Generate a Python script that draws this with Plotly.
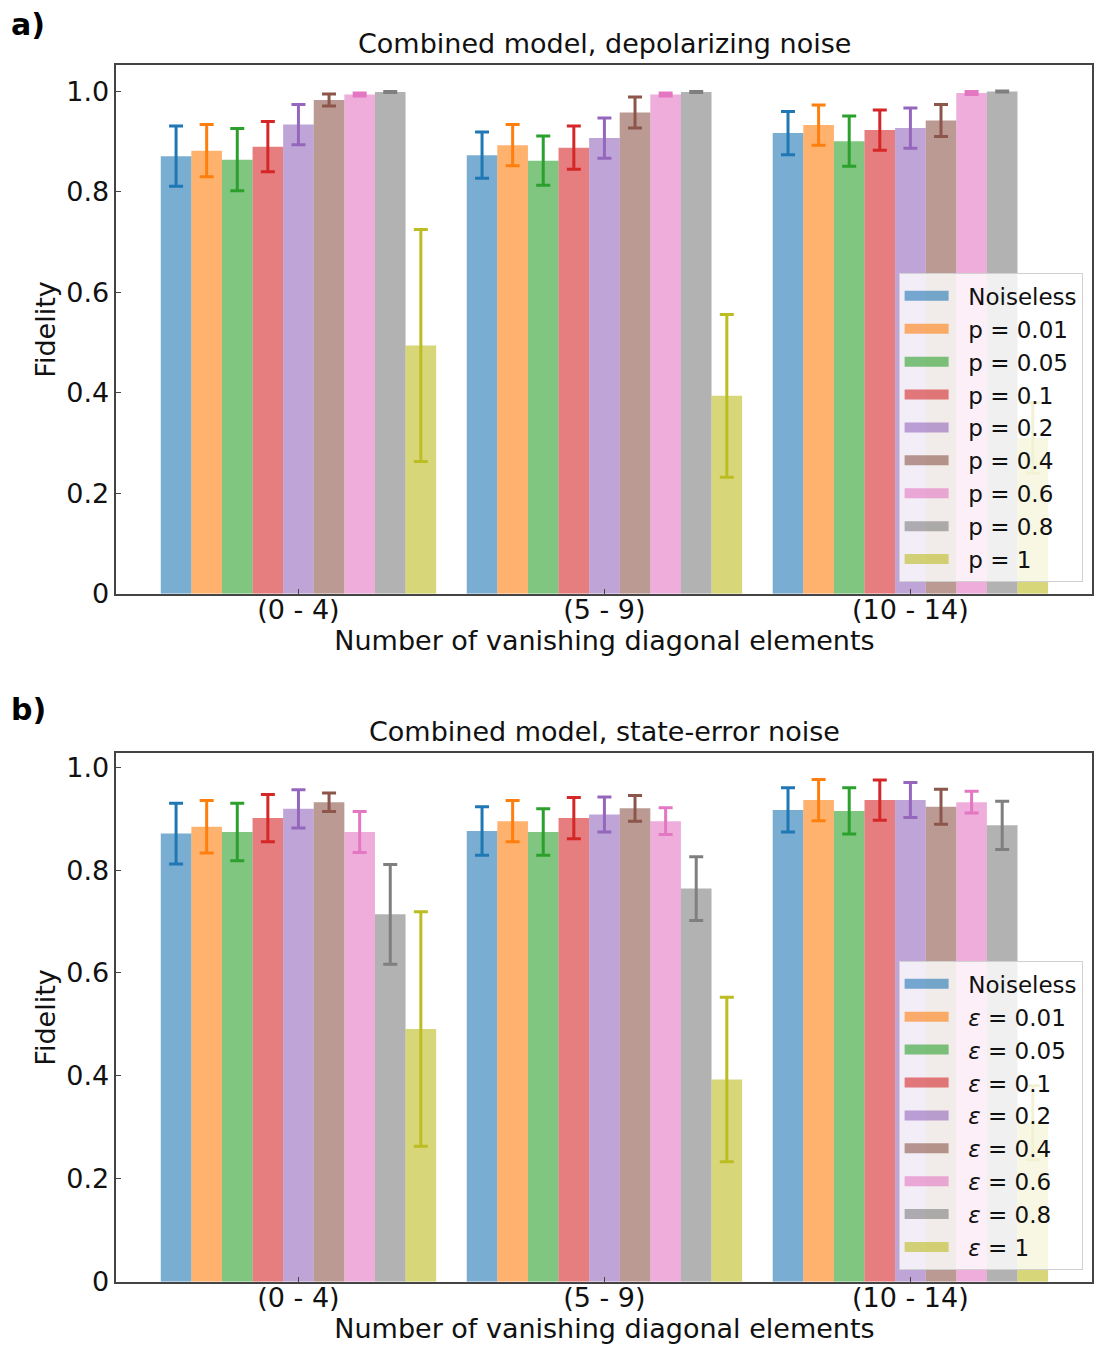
import plotly.graph_objects as go

categories = ["(0 - 4)", "(5 - 9)", "(10 - 14)"]
series_a = ["Noiseless", "p = 0.01", "p = 0.05", "p = 0.1", "p = 0.2", "p = 0.4", "p = 0.6", "p = 0.8", "p = 1"]
series_b = ["Noiseless", "<i>ε</i> = 0.01", "<i>ε</i> = 0.05", "<i>ε</i> = 0.1", "<i>ε</i> = 0.2",
            "<i>ε</i> = 0.4", "<i>ε</i> = 0.6", "<i>ε</i> = 0.8", "<i>ε</i> = 1"]

# Panel a: depolarizing noise (rows: series, cols: categories)
vals_a = [
    [0.871, 0.873, 0.917],
    [0.882, 0.893, 0.933],
    [0.864, 0.862, 0.901],
    [0.890, 0.888, 0.923],
    [0.934, 0.907, 0.927],
    [0.983, 0.958, 0.942],
    [0.994, 0.994, 0.997],
    [0.999, 0.999, 1.000],
    [0.494, 0.394, 0.310],
]
errs_a = [
    [0.060, 0.046, 0.043],
    [0.052, 0.041, 0.040],
    [0.062, 0.049, 0.050],
    [0.050, 0.043, 0.040],
    [0.040, 0.040, 0.040],
    [0.012, 0.031, 0.032],
    [0.003, 0.003, 0.003],
    [0.001, 0.001, 0.001],
    [0.231, 0.162, 0.070],
]

# Panel b: state-error noise
vals_b = [
    [0.871, 0.876, 0.917],
    [0.884, 0.895, 0.936],
    [0.874, 0.874, 0.915],
    [0.901, 0.901, 0.936],
    [0.919, 0.908, 0.936],
    [0.932, 0.920, 0.923],
    [0.874, 0.895, 0.932],
    [0.714, 0.764, 0.887],
    [0.491, 0.393, 0.309],
]
errs_b = [
    [0.059, 0.047, 0.043],
    [0.051, 0.040, 0.040],
    [0.056, 0.045, 0.045],
    [0.046, 0.040, 0.039],
    [0.037, 0.034, 0.034],
    [0.018, 0.025, 0.034],
    [0.040, 0.026, 0.021],
    [0.097, 0.062, 0.047],
    [0.228, 0.160, 0.072],
]

colors = ["#1f77b4", "#ff7f0e", "#2ca02c", "#d62728", "#9467bd",
          "#8c564b", "#e377c2", "#7f7f7f", "#bcbd22"]

def rgba(h, a):
    h = h.lstrip("#")
    r, g, b = int(h[0:2], 16), int(h[2:4], 16), int(h[4:6], 16)
    return f"rgba({r},{g},{b},{a})"

fig = go.Figure()
xpos = list(range(len(categories)))
pad = "\u00a0\u00a0"

for panel, (names, vals, errs) in enumerate([(series_a, vals_a, errs_a), (series_b, vals_b, errs_b)]):
    xa = "x" if panel == 0 else "x2"
    ya = "y" if panel == 0 else "y2"
    leg = "legend" if panel == 0 else "legend2"
    for i, name in enumerate(names):
        fig.add_trace(go.Bar(
            x=xpos, y=vals[i], name=name, showlegend=False,
            marker=dict(color=rgba(colors[i], 0.6), line=dict(width=0)),
            error_y=dict(type="data", array=errs[i], color=colors[i], thickness=3, width=7, visible=True),
            xaxis=xa, yaxis=ya, offsetgroup=str(i), legendgroup=f"{panel}-{i}",
        ))
    # legend entries (wide colour patches like the original)
    for i, name in enumerate(names):
        fig.add_trace(go.Scatter(
            x=[None], y=[None], name=pad + name, mode="lines",
            line=dict(color=rgba(colors[i], 0.6), width=17),
            xaxis=xa, yaxis=ya, legend=leg, legendgroup=f"{panel}-{i}",
        ))

font = "DejaVu Sans"
txt = "#111"
axis_common = dict(
    showline=True, linecolor="#444", linewidth=1.5, mirror=True,
    ticks="inside", ticklen=5, tickcolor="#444", tickwidth=1.2,
    showgrid=False, zeroline=False,
    tickfont=dict(family=font, size=27, color=txt),
)

ydoms = [[0.5547, 0.9517], [0.0378, 0.4348]]
yranges = [[0, 1.052], [0, 1.027]]
titles = ["Combined model, depolarizing noise", "Combined model, state-error noise"]

layout = dict(
    width=1094, height=1347,
    margin=dict(l=0, r=0, t=0, b=0),
    paper_bgcolor="white", plot_bgcolor="white",
    barmode="group", bargap=0.1, bargroupgap=0,
    showlegend=True,
)

for k in range(2):
    sx = "" if k == 0 else "2"
    layout["xaxis" + sx] = dict(
        axis_common, domain=[0.1065, 0.9995], range=[-0.595, 2.595],
        tickvals=xpos, ticktext=categories, anchor="y" + sx,
        ticklabelstandoff=-9,
        title=dict(text="Number of vanishing diagonal elements", font=dict(family=font, size=27, color=txt), standoff=2),
    )
    layout["yaxis" + sx] = dict(
        axis_common, domain=ydoms[k], range=yranges[k], anchor="x" + sx,
        tickvals=[0, 0.2, 0.4, 0.6, 0.8, 1.0], ticktext=["0", "0.2", "0.4", "0.6", "0.8", "1.0"],
        title=dict(text="Fidelity", font=dict(family=font, size=27, color=txt), standoff=3),
    )
    layout["legend" + ("" if k == 0 else "2")] = dict(
        x=0.9905, xanchor="right",
        y=ydoms[k][0] + 0.0085, yanchor="bottom",
        bgcolor="rgba(255,255,255,0.8)", bordercolor="#d0d0d0", borderwidth=1,
        font=dict(family=font, size=23, color=txt),
        tracegroupgap=0, itemwidth=44,
    )

fig.update_layout(**layout)

for k in range(2):
    fig.add_annotation(text=titles[k], xref="paper", yref="paper",
                       x=(0.1065 + 0.9995) / 2, y=ydoms[k][1] + 0.003, xanchor="center", yanchor="bottom",
                       showarrow=False, font=dict(family=font, size=27, color=txt))
fig.add_annotation(text="<b>a)</b>", xref="paper", yref="paper", x=0.008, y=1.0 - 4 / 1347,
                   xanchor="left", yanchor="top", showarrow=False, font=dict(family=font, size=30, color="#000"))
fig.add_annotation(text="<b>b)</b>", xref="paper", yref="paper", x=0.008, y=1.0 - 697 / 1347,
                   xanchor="left", yanchor="top", showarrow=False, font=dict(family=font, size=30, color="#000"))

fig.write_html("out.html")
